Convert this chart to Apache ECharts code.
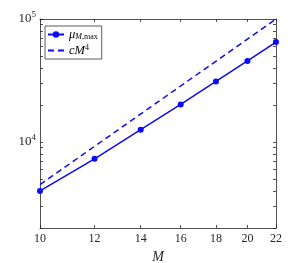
<!DOCTYPE html>
<html><head><meta charset="utf-8">
<script src="https://cdn.jsdelivr.net/npm/echarts@6/dist/echarts.min.js"></script>
<style>html,body{margin:0;padding:0;background:#fff}#c{width:305px;height:263px}</style>
</head><body><div id="c"></div>
<script>
const M = [10, 12, 14, 16, 18, 20, 22];
const muMax = [4000, 7300, 12600, 20200, 31100, 45600, 65000];
const fitM = [10, 22];
const fitVals = [4500, 100000];
const xTicks = [10, 12, 14, 16, 18, 20, 22];
const yLabels = [10000, 100000];
const yMinor = [2000,3000,4000,5000,6000,7000,8000,9000,10000,20000,30000,40000,50000,60000,70000,80000,90000,100000];

const serif = 'Liberation Serif';
const axisCol = '#262626';
const blue = '#0a0af5';
const chart = echarts.init(document.getElementById('c'), null, {renderer: 'canvas'});
const pair = (xs, ys) => xs.map((x, i) => [x, ys[i]]);
chart.setOption({
  animation: false,
  grid: {left: 40, right: 29, top: 19, bottom: 35, containLabel: false, outerBoundsMode: 'none'},
  legend: {
    left: 45, top: 26, orient: 'vertical', itemGap: 3, itemWidth: 16, itemHeight: 8,
    borderColor: '#333', borderWidth: 0.8, backgroundColor: '#fff', padding: [2, 4, 2, 2],
    borderRadius: 0,
    textStyle: {fontFamily: serif, fontSize: 11, color: '#000',
      rich: {
        i: {fontFamily: serif, fontStyle: 'italic', fontSize: 12.5},
        s: {fontFamily: serif, fontSize: 8, fontStyle: 'italic', verticalAlign: 'bottom', padding: [4, 0, 0, 0]},
        r: {fontFamily: serif, fontSize: 8, verticalAlign: 'bottom', padding: [4, 0, 0, 0]},
        p: {fontFamily: serif, fontSize: 8, verticalAlign: 'top', padding: [0, 0, 5, 0]}
      }},
    formatter: n => n === 'mu' ? '{i|μ}{s|M}{r|,max}' : '{i|cM}{p|4}',
    data: ['mu', {name: 'fit', itemStyle: {opacity: 0}}]
  },
  xAxis: [{
    type: 'log', logBase: 10, min: 10, max: 22,
    name: 'M', nameLocation: 'middle', nameGap: 16,
    nameTextStyle: {fontFamily: serif, fontStyle: 'italic', fontSize: 14, color: axisCol},
    axisLine: {lineStyle: {color: axisCol, width: 0.8}},
    axisTick: {inside: true, length: 3, customValues: xTicks, lineStyle: {color: axisCol, width: 0.8}},
    axisLabel: {customValues: xTicks, fontFamily: serif, fontSize: 12, color: axisCol, margin: 5,
      formatter: v => String(Math.round(v))},
    splitLine: {show: false}, minorTick: {show: false}
  }, {
    type: 'log', logBase: 10, min: 10, max: 22, position: 'top',
    axisLine: {show: true, lineStyle: {color: axisCol, width: 0.8}},
    axisTick: {inside: true, length: 3, customValues: xTicks, lineStyle: {color: axisCol, width: 0.8}},
    axisLabel: {show: false}, splitLine: {show: false}
  }],
  yAxis: [{
    type: 'log', logBase: 10, min: 2000, max: 100000,
    axisLine: {show: true, lineStyle: {color: axisCol, width: 0.8}},
    axisTick: {show: true, inside: true, length: 3, customValues: yMinor, lineStyle: {color: axisCol, width: 0.8}},
    axisLabel: {customValues: yLabels, fontFamily: serif, fontSize: 13, color: axisCol, margin: 4,
      formatter: v => '{b|10}{s|' + Math.round(Math.log10(v)) + '}',
      rich: {b: {fontFamily: serif, fontSize: 13, color: axisCol},
             s: {fontFamily: serif, fontSize: 9, color: axisCol, verticalAlign: 'top', padding: [0, 0, 8, 0]}}},
    splitLine: {show: false}
  }, {
    type: 'log', logBase: 10, min: 2000, max: 100000, position: 'right',
    axisLine: {show: true, lineStyle: {color: axisCol, width: 0.8}},
    axisTick: {show: true, inside: true, length: 3, customValues: yMinor, lineStyle: {color: axisCol, width: 0.8}},
    axisLabel: {show: false}, splitLine: {show: false}
  }],
  series: [{
    name: 'mu', type: 'line', data: pair(M, muMax),
    color: blue, symbol: 'circle', symbolSize: 6,
    lineStyle: {width: 1.5}, itemStyle: {color: blue}
  }, {
    name: 'fit', type: 'line', data: pair(fitM, fitVals),
    color: blue, symbol: 'none', showSymbol: false,
    lineStyle: {width: 1.5, type: [6, 4]}, itemStyle: {color: blue}
  }]
});
</script></body></html>
